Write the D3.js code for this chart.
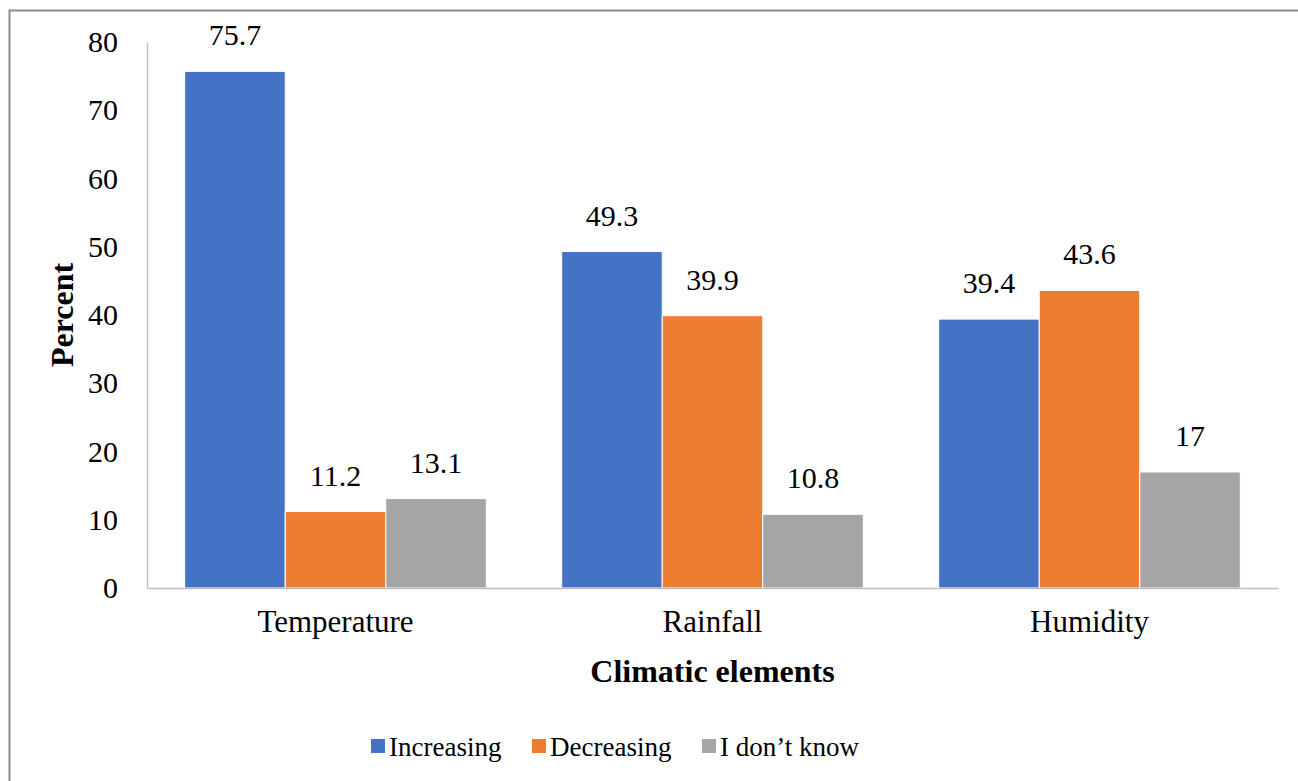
<!DOCTYPE html>
<html>
<head>
<meta charset="utf-8">
<script src="https://cdn.jsdelivr.net/npm/d3@7"></script>
<style>
  body { margin: 0; background: #fff; }
</style>
</head>
<body>
<div id="chart"></div>
<script>
const categories = ["Temperature", "Rainfall", "Humidity"];
const seriesNames = ["Increasing", "Decreasing", "I don\u2019t know"];
const increasing = [75.7, 49.3, 39.4];
const decreasing = [11.2, 39.9, 43.6];
const dontKnow = [13.1, 10.8, 17];
const yTicks = [0, 10, 20, 30, 40, 50, 60, 70, 80];
const colours = ["#4472C4", "#ED7D31", "#A5A5A5"];

const serif = '"Liberation Serif", "Times New Roman", serif';
const width = 1298, height = 781;
const margin = { top: 42, right: 20, bottom: 193, left: 147 };

const svg = d3.select("#chart").append("svg")
  .attr("width", width)
  .attr("height", height);

// outer frame (only top / left edges are visible in the original)
svg.append("rect")
  .attr("x", 9.5).attr("y", 10.5)
  .attr("width", width + 20).attr("height", height + 20)
  .attr("fill", "none")
  .attr("stroke", "#8c8c8c")
  .attr("stroke-width", 2);

const plotW = 1278 - margin.left;
const plotH = 588 - margin.top;

const g = svg.append("g")
  .attr("transform", "translate(" + margin.left + "," + margin.top + ")");

const x0 = d3.scaleBand()
  .domain(categories)
  .range([0, plotW])
  .paddingInner(0.2)
  .paddingOuter(0.1);

const x1 = d3.scaleBand()
  .domain(seriesNames)
  .range([0, x0.bandwidth()]);

const y = d3.scaleLinear()
  .domain([0, 80])
  .range([plotH, 0]);

const allSeries = [increasing, decreasing, dontKnow];
const rows = [];
categories.forEach(function(c, i) {
  seriesNames.forEach(function(s, j) {
    rows.push({ cat: c, series: s, value: allSeries[j][i], colour: colours[j] });
  });
});

// y axis
const yAxis = g.append("g")
  .call(d3.axisLeft(y).tickValues(yTicks).tickSize(0).tickPadding(29));
yAxis.select(".domain").attr("stroke", "#bfbfbf").attr("stroke-width", 1.5);
yAxis.selectAll("text")
  .style("font-family", serif)
  .style("font-size", "30px")
  .attr("fill", "#000");

// bars
g.selectAll(".bar")
  .data(rows)
  .enter()
  .append("rect")
  .attr("class", "bar")
  .attr("x", function(d) { return x0(d.cat) + x1(d.series); })
  .attr("y", function(d) { return y(d.value); })
  .attr("width", x1.bandwidth())
  .attr("height", function(d) { return plotH - y(d.value); })
  .attr("fill", function(d) { return d.colour; })
  .attr("stroke", "#fff")
  .attr("stroke-width", 1);

// value labels
g.selectAll(".val")
  .data(rows)
  .enter()
  .append("text")
  .attr("class", "val")
  .attr("x", function(d) { return x0(d.cat) + x1(d.series) + x1.bandwidth() / 2; })
  .attr("y", function(d) { return y(d.value) - 26; })
  .attr("text-anchor", "middle")
  .style("font-family", serif)
  .style("font-size", "30px")
  .text(function(d) { return d.value; });

// x axis
const xAxis = g.append("g")
  .attr("transform", "translate(0," + plotH + ")")
  .call(d3.axisBottom(x0).tickSize(0).tickPadding(22));
xAxis.select(".domain").attr("stroke", "#bfbfbf").attr("stroke-width", 1.5);
xAxis.selectAll("text")
  .style("font-family", serif)
  .style("font-size", "31px")
  .attr("fill", "#000");

// axis titles
svg.append("text")
  .attr("x", margin.left + plotW / 2)
  .attr("y", 682)
  .attr("text-anchor", "middle")
  .style("font-family", serif)
  .style("font-size", "32px")
  .style("font-weight", "bold")
  .text("Climatic elements");

svg.append("text")
  .attr("transform", "translate(73," + (margin.top + plotH / 2) + ") rotate(-90)")
  .attr("text-anchor", "middle")
  .style("font-family", serif)
  .style("font-size", "32px")
  .style("font-weight", "bold")
  .text("Percent");

// legend
const legendX = [371, 532, 702];
const legend = svg.append("g");
seriesNames.forEach(function(s, i) {
  legend.append("rect")
    .attr("x", legendX[i]).attr("y", 739)
    .attr("width", 14).attr("height", 14)
    .attr("fill", colours[i]);
  legend.append("text")
    .attr("x", legendX[i] + 18).attr("y", 756)
    .style("font-family", serif)
    .style("font-size", "27px")
    .text(s);
});
</script>
</body>
</html>
